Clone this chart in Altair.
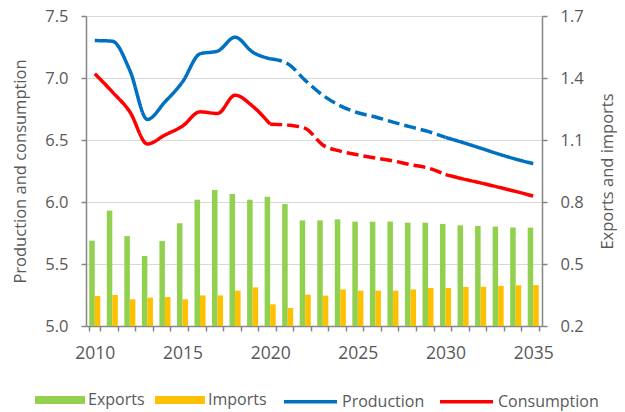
import altair as alt
import pandas as pd

years = list(range(2010, 2036))
exports = [0.613, 0.758, 0.635, 0.539, 0.611, 0.697, 0.811, 0.858, 0.839, 0.811,
           0.826, 0.790, 0.711, 0.711, 0.716, 0.705, 0.705, 0.705, 0.700, 0.700,
           0.694, 0.687, 0.684, 0.681, 0.677, 0.676]
imports = [0.345, 0.350, 0.329, 0.337, 0.340, 0.329, 0.348, 0.348, 0.371, 0.387,
           0.305, 0.287, 0.352, 0.347, 0.377, 0.371, 0.371, 0.371, 0.377, 0.384,
           0.384, 0.389, 0.390, 0.394, 0.397, 0.398]
production = [7.302, 7.297, 7.061, 6.666, 6.807, 6.968, 7.195, 7.217, 7.329, 7.209,
              7.155, 7.115, 6.981, 6.861, 6.775, 6.720, 6.686, 6.644, 6.606, 6.569,
              6.521, 6.479, 6.434, 6.388, 6.346, 6.309]
consumption = [7.035, 6.888, 6.727, 6.468, 6.540, 6.612, 6.727, 6.714, 6.861, 6.773,
               6.628, 6.620, 6.594, 6.460, 6.410, 6.380, 6.354, 6.332, 6.301, 6.274,
               6.221, 6.186, 6.154, 6.120, 6.085, 6.048]
left_ticks = [5.0, 5.5, 6.0, 6.5, 7.0, 7.5]
right_ticks = [0.2, 0.5, 0.8, 1.1, 1.4, 1.7]
segments = [("a", 2010, 2020, "solid"), ("b", 2020, 2030, "dashed"), ("c", 2030, 2035, "solid")]

bar_rows = []
for y, e, i in zip(years, exports, imports):
    bar_rows.append({"year": str(y), "type": "Exports", "value": e})
    bar_rows.append({"year": str(y), "type": "Imports", "value": i})
bars_df = pd.DataFrame(bar_rows)

line_rows = []
for name, vals in [("Production", production), ("Consumption", consumption)]:
    for seg, s, e, style in segments:
        for y, v in zip(years, vals):
            if s <= y <= e:
                line_rows.append({"year": str(y), "series": name, "value": v,
                                  "seg": seg, "style": style})
lines_df = pd.DataFrame(line_rows)

FONT = "Open Sans"
TXT = "#595959"
AX = "#868686"

x_enc = alt.X(
    "year:O",
    scale=alt.Scale(paddingInner=0.37, paddingOuter=0.185),
    axis=alt.Axis(
        title=None,
        labelExpr="toNumber(datum.value) % 5 == 0 ? datum.value : ''",
        labelAngle=0, tickBand="extent", tickSize=5, tickColor=AX,
        domainColor=AX, domainWidth=1.5, tickWidth=1.5,
        labelFont=FONT, labelFontSize=17.5, labelColor=TXT, labelPadding=13,
        grid=False,
    ),
)

bars = alt.Chart(bars_df).mark_bar().encode(
    x=x_enc,
    xOffset=alt.XOffset("type:N", scale=alt.Scale(domain=["Exports", "Imports"],
                                                    paddingInner=0, paddingOuter=0)),
    y=alt.Y(
        "value:Q",
        scale=alt.Scale(domain=[0.2, 1.7], zero=False, nice=False),
        axis=alt.Axis(
            orient="right", values=right_ticks, format=".1f",
            title="Exports and imports", grid=False,
            tickSize=5, tickColor=AX, tickWidth=1.5, domainColor=AX, domainWidth=1.5,
            labelFont=FONT, labelFontSize=16.5, labelColor=TXT, labelPadding=13,
            titleFont=FONT, titleFontSize=16.5, titleFontWeight="normal", titleColor=TXT,
            titleAngle=270, titleX=65, titleY=155, titleAlign="center", titleBaseline="middle",
        ),
    ),
    y2=alt.datum(0.2),
    color=alt.Color(
        "type:N",
        scale=alt.Scale(domain=["Exports", "Imports"], range=["#92D050", "#FFC000"]),
        legend=alt.Legend(
            title=None, orient="none", legendX=-51, legendY=359, direction="horizontal",
            symbolType="M-1,-0.16H1V0.16H-1Z", symbolSize=2500, symbolStrokeWidth=0,
            labelFont=FONT, labelFontSize=16, labelColor=TXT, labelOffset=3,
            columnPadding=10,
        ),
    ),
)

lines = alt.Chart(lines_df).mark_line(strokeWidth=3.5, interpolate="monotone").encode(
    x=x_enc,
    y=alt.Y(
        "value:Q",
        scale=alt.Scale(domain=[5.0, 7.5], zero=False, nice=False),
        axis=alt.Axis(
            orient="left", values=left_ticks, format=".1f",
            title="Production and consumption", grid=True, gridColor="#d9d9d9", gridWidth=1.2,
            tickSize=5, tickColor=AX, tickWidth=1.5, domainColor=AX, domainWidth=1.5,
            labelFont=FONT, labelFontSize=16.5, labelColor=TXT, labelPadding=13,
            titleFont=FONT, titleFontSize=16.5, titleFontWeight="normal", titleColor=TXT,
            titleX=-66, titleY=155, titleAlign="center", titleBaseline="middle",
        ),
    ),
    stroke=alt.Stroke(
        "series:N",
        scale=alt.Scale(domain=["Production", "Consumption"], range=["#0070C0", "#FF0000"]),
        legend=alt.Legend(
            title=None, orient="none", legendX=196, legendY=357, direction="horizontal",
            symbolType="stroke", symbolSize=2809, symbolStrokeWidth=3.5,
            labelFont=FONT, labelFontSize=16, labelColor=TXT, labelOffset=3,
            columnPadding=8,
        ),
    ),
    strokeDash=alt.StrokeDash(
        "style:N",
        scale=alt.Scale(domain=["solid", "dashed"], range=[[1, 0], [12, 5]]),
        legend=None,
    ),
    detail="seg:N",
)

chart = alt.layer(bars, lines).resolve_scale(y="independent").properties(
    width=456, height=310,
    autosize=alt.AutoSizeParams(type="none"),
    padding={"left": 78, "top": 8, "right": 75, "bottom": 92},
).configure_view(stroke=None)

chart.save("out.html", embed_options={"renderer": "svg", "actions": False})
